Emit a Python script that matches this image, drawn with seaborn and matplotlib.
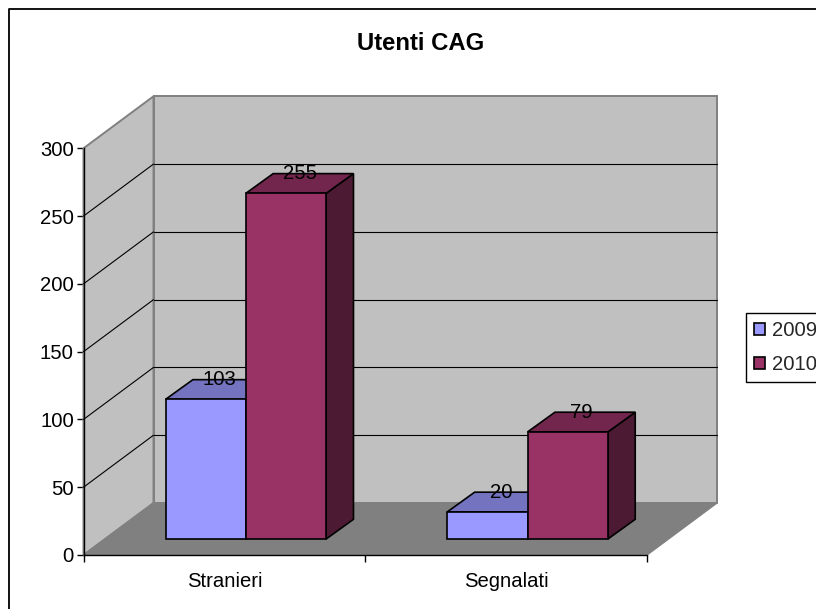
import matplotlib
matplotlib.use("Agg")
import matplotlib.pyplot as plt
import matplotlib.transforms as mtransforms
from matplotlib.patches import Polygon
from matplotlib.lines import Line2D
import pandas as pd
import seaborn as sns

categories = ["Stranieri", "Segnalati"]
years = ["2009", "2010"]
values_2009 = [103, 20]
values_2010 = [255, 79]
y_ticks = [0, 50, 100, 150, 200, 250, 300]
grid_levels = [50, 100, 150, 200, 250]

colors = {"2009": "#9999FF", "2010": "#993366"}
tops = {"2009": "#7373BF", "2010": "#73264D"}
sides = {"2009": "#4D4D80", "2010": "#4D1A33"}

df = pd.DataFrame({
    "categoria": categories * 2,
    "anno": [years[0]] * 2 + [years[1]] * 2,
    "utenti": values_2009 + values_2010,
})

sns.set_theme(style="white")
plt.rcParams["font.family"] = ["Liberation Sans", "DejaVu Sans"]

W, H = 816, 609
FS = 14.6
fig = plt.figure(figsize=(W / 100, H / 100), dpi=100, facecolor="white")
ax = fig.add_axes([83.5 / W, (H - 555) / H, (647 - 83.5) / W, (555 - 148.3) / H])
ax.patch.set_visible(False)

sns.barplot(data=df, x="categoria", y="utenti", hue="anno", palette=colors, saturation=1,
            width=0.57, gap=0, edgecolor="black", linewidth=1.2, ax=ax)
ax.set_xlim(-0.5, 1.5)
ax.set_ylim(0, 300)

# depth of the fake 3d, in pixels
wall_back = mtransforms.offset_copy(ax.transData, fig, x=70, y=52, units="dots")
bar_front = mtransforms.offset_copy(ax.transData, fig, x=21.5, y=16, units="dots")
bar_back = mtransforms.offset_copy(ax.transData, fig, x=48.8, y=35.7, units="dots")


def px_poly(points, transforms, **kw):
    # points are data coords, each one with its own transform
    pix = [t.transform(p) for p, t in zip(points, transforms)]
    poly = Polygon(pix, closed=True, transform=None, clip_on=False, **kw)
    ax.add_artist(poly)
    return poly


front = ax.transData
# back wall, side wall, floor
px_poly([(-0.5, 0), (1.5, 0), (1.5, 300), (-0.5, 300)], [wall_back] * 4,
        facecolor="#C0C0C0", edgecolor="#808080", linewidth=1.4, zorder=0.5)
px_poly([(-0.5, 0), (-0.5, 0), (-0.5, 300), (-0.5, 300)], [front, wall_back, wall_back, front],
        facecolor="#C0C0C0", edgecolor="#808080", linewidth=1.4, zorder=0.6)
px_poly([(-0.5, 0), (1.5, 0), (1.5, 0), (-0.5, 0)], [front, front, wall_back, wall_back],
        facecolor="#808080", edgecolor="#808080", linewidth=1, zorder=0.7)

for lev in grid_levels:
    ax.plot([-0.5, 1.5], [lev, lev], color="black", lw=0.8, transform=wall_back, clip_on=False, zorder=0.8)
    a = front.transform((-0.5, lev))
    b = wall_back.transform((-0.5, lev))
    ax.plot([a[0], b[0]], [a[1], b[1]], color="black", lw=0.8, transform=None, clip_on=False, zorder=0.8)

# bars: sides and tops from the seaborn rectangles, then move the fronts back
for k, (year, container) in enumerate(zip(years, ax.containers)):
    z = 2 + k
    for bar, val in zip(container.patches, container.datavalues):
        x0 = bar.get_x()
        x1 = x0 + bar.get_width()
        px_poly([(x1, 0), (x1, 0), (x1, val), (x1, val)], [bar_front, bar_back, bar_back, bar_front],
                facecolor=sides[year], edgecolor="black", linewidth=1.2, zorder=z)
        px_poly([(x0, val), (x1, val), (x1, val), (x0, val)], [bar_front, bar_front, bar_back, bar_back],
                facecolor=tops[year], edgecolor="black", linewidth=1.2, zorder=z)
        bar.set_transform(bar_front)
        bar.set_clip_on(False)
        bar.set_zorder(z + 0.5)
        lab_x, lab_y = bar_back.transform((x0 + bar.get_width() / 2, val))
        ax.annotate(f"{val:.0f}", xy=(lab_x - 13.6, lab_y), xycoords="figure pixels", ha="center", va="center",
                    fontsize=FS, color="black", zorder=10, annotation_clip=False)

sns.despine(ax=ax, top=True, right=True)
for s in ["left", "bottom"]:
    ax.spines[s].set_color("black")
    ax.spines[s].set_linewidth(1)
    ax.spines[s].set_zorder(1)

ax.set_xlabel("")
ax.set_ylabel("")
ax.set_yticks(y_ticks)
ax.set_xticks([0, 1], categories)
ax.set_xticks([-0.5, 0.5, 1.5], minor=True)
ax.tick_params(axis="y", left=True, length=5, width=1, color="black", labelsize=FS, labelcolor="black", pad=2)
ax.tick_params(axis="x", which="major", bottom=False, labelsize=FS, labelcolor="black", pad=6)
ax.tick_params(axis="x", which="minor", bottom=True, length=5, width=1, color="black")

fig.text(420.5 / W, 1 - 43 / H, "Utenti CAG", ha="center", va="center", fontsize=17.2, fontweight="bold", color="black")

handles, labels = ax.get_legend_handles_labels()
ax.legend(handles, labels, loc="upper left", bbox_to_anchor=(746 / W, 1 - 313 / H), bbox_transform=fig.transFigure,
          frameon=True, fancybox=False, framealpha=1, edgecolor="black", facecolor="white", fontsize=FS,
          handlelength=0.55, handleheight=0.55, handletextpad=0.35, labelspacing=0.75, borderpad=0.4, borderaxespad=0)

# chart frame, only the top and left sides fall inside the picture
fig.add_artist(Line2D([9 / W, 9 / W, 1], [0, 1 - 9 / H, 1 - 9 / H], transform=fig.transFigure,
                      color="black", linewidth=1.3, zorder=20))

fig.savefig("out.png", dpi=100)
